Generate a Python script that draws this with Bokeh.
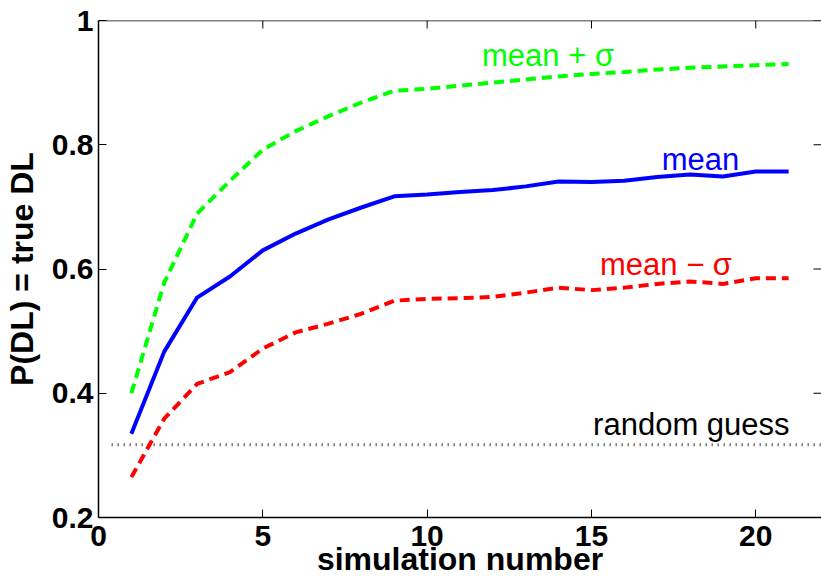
import math
from bokeh.plotting import figure
from bokeh.models import Range1d, FixedTicker, LinearAxis, Label, Span
from bokeh.embed import file_html
from bokeh.resources import INLINE

# ---- data ----
sim = list(range(1, 22))
mean_vals = [0.335, 0.467, 0.554, 0.588, 0.630, 0.657, 0.680, 0.699, 0.717, 0.720,
             0.724, 0.727, 0.733, 0.741, 0.740, 0.742, 0.748, 0.752, 0.749, 0.757, 0.757]
plus_vals = [0.400, 0.578, 0.689, 0.742, 0.792, 0.822, 0.846, 0.868, 0.887, 0.890,
             0.895, 0.900, 0.905, 0.910, 0.914, 0.917, 0.921, 0.924, 0.926, 0.928, 0.930]
minus_vals = [0.265, 0.359, 0.415, 0.434, 0.472, 0.498, 0.512, 0.528, 0.549, 0.552,
              0.553, 0.555, 0.562, 0.570, 0.566, 0.570, 0.576, 0.580, 0.576, 0.585, 0.585]
guess_x = [0.4, 22.0]
guess_y = [0.317, 0.317]

x_ticks = [0, 5, 10, 15, 20]
x_tick_labels = ["0", "5", "10", "15", "20"]
y_ticks = [0.2, 0.4, 0.6, 0.8, 1.0]
y_tick_labels = ["0.2", "0.4", "0.6", "0.8", "1"]

X_MIN, X_MAX = 0, 22
Y_MIN, Y_MAX = 0.2, 1.0

FONT = "Liberation Sans"

p = figure(width=821, height=586, output_backend="svg", toolbar_location=None,
           x_range=Range1d(X_MIN, X_MAX), y_range=Range1d(Y_MIN, Y_MAX),
           x_axis_location=None, y_axis_location=None,
           min_border_left=98, min_border_right=0, min_border_top=20, min_border_bottom=69)
p.outline_line_color = None
p.xgrid.visible = False
p.ygrid.visible = False
p.background_fill_color = "white"
p.border_fill_color = "white"


def style_axis(ax, ticks, labels):
    ax.ticker = FixedTicker(ticks=ticks)
    ax.major_label_overrides = {t: l for t, l in zip(ticks, labels)}
    ax.minor_tick_line_color = None
    ax.major_tick_in = 8
    ax.major_tick_out = 0
    ax.major_tick_line_color = "black"
    ax.major_tick_line_width = 1
    ax.axis_line_color = "black"
    ax.axis_line_width = 1.5
    ax.major_label_text_font = FONT
    ax.major_label_text_font_style = "bold"
    ax.major_label_text_font_size = "30px"
    ax.major_label_text_color = "black"
    ax.axis_label_text_font = FONT
    ax.axis_label_text_font_style = "bold"
    ax.axis_label_text_font_size = "32px"
    ax.axis_label_text_color = "black"


xb = LinearAxis(axis_label="simulation number")
style_axis(xb, x_ticks, x_tick_labels)
xb.major_label_standoff = 8
xb.axis_label_standoff = -8
p.add_layout(xb, "below")

yl = LinearAxis(axis_label="P(DL) = true DL")
style_axis(yl, y_ticks, y_tick_labels)
yl.major_label_standoff = 5
yl.axis_label_standoff = 9
p.add_layout(yl, "left")

# top box edge and inward ticks on the top / right sides (no labels there)
p.add_layout(Span(location=Y_MAX, dimension="width", line_color="black", line_width=1.5))
p.ray(x=x_ticks, y=[Y_MAX] * len(x_ticks), length=8, length_units="screen",
      angle=-math.pi / 2, line_color="black", line_width=1)
p.ray(x=[X_MAX] * len(y_ticks), y=y_ticks, length=8, length_units="screen",
      angle=math.pi, line_color="black", line_width=1)

# ---- lines ----
p.line(guess_x, guess_y, line_color="#333333", line_width=3, line_dash="1 5")
p.line(sim, plus_vals, line_color="#00ff00", line_width=4, line_dash="10 6")
p.line(sim, minus_vals, line_color="#ff0000", line_width=4, line_dash="10 6")
p.line(sim, mean_vals, line_color="#0000ff", line_width=4)

# ---- annotations ----
ann = [
    ("mean + \u03c3", 11.67, 0.943, "#00ff00"),
    ("mean", 17.14, 0.777, "#0000ff"),
    ("mean \u2212 \u03c3", 15.26, 0.608, "#ff0000"),
    ("random guess", 15.05, 0.350, "black"),
]
for txt, lx, ly, col in ann:
    p.add_layout(Label(x=lx, y=ly, text=txt, text_color=col, text_font=FONT,
                       text_font_size="31px", text_baseline="alphabetic", text_align="left"))

# beamer navigation symbols (bottom right of the slide)
p.add_layout(Label(x=15.8, y=0.104, text="\u25c2 \u2750 \u25b8  \u25c2 \u2263 \u25b8  \u25c2 \u2263 \u25b8    \u2263",
                   text_color="#b0b0e0", text_font="DejaVu Sans", text_font_size="14px",
                   text_baseline="middle", text_align="left"))

open("out.html", "w").write(file_html(p, INLINE))
